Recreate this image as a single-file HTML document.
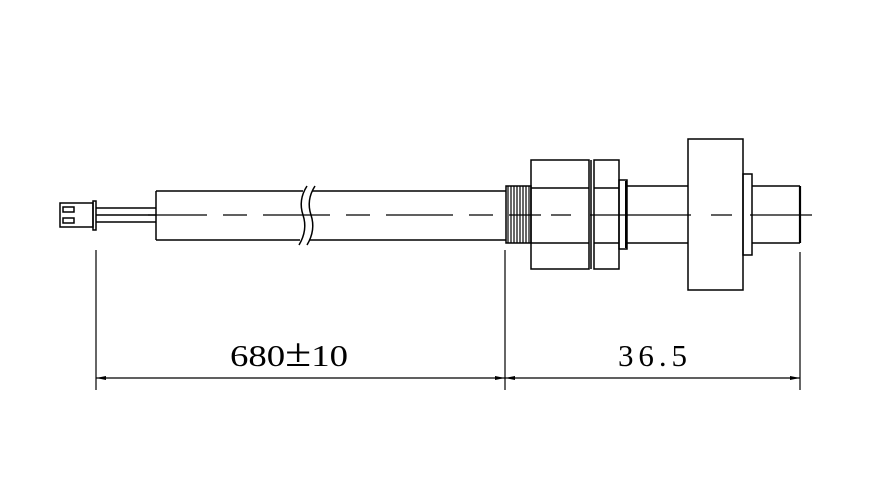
<!DOCTYPE html>
<html><head><style>body{margin:0;background:#fff}svg{display:block}</style></head><body>
<svg width="883" height="485" viewBox="0 0 883 485" xmlns="http://www.w3.org/2000/svg">
<rect width="883" height="485" fill="#fff"/>
<g fill="none" stroke="#000" stroke-width="1.5">
<rect x="60" y="203" width="33" height="24"/>
<rect x="63" y="207" width="11" height="5"/>
<rect x="63" y="218" width="11" height="5"/>
<rect x="93" y="201" width="3" height="29"/>
<line x1="96" y1="208" x2="156" y2="208"/>
<line x1="96" y1="215" x2="156" y2="215"/>
<line x1="96" y1="222" x2="156" y2="222"/>
<line x1="156" y1="191" x2="156" y2="240"/>
<line x1="156" y1="191" x2="303" y2="191"/>
<line x1="156" y1="240" x2="300" y2="240"/>
<line x1="312" y1="191" x2="506" y2="191"/>
<line x1="309" y1="240" x2="506" y2="240"/>
<path d="M307 186 Q298 200 303 215 Q308 230 299 245"/>
<path d="M315 186 Q306 200 311 215 Q316 230 307 245"/>
<rect x="506" y="186" width="25" height="57"/>
<path d="M508 186v57M511 186v57M514 186v57M517 186v57M520 186v57M523 186v57M526 186v57M529 186v57" stroke-width="1.2"/>
<rect x="531" y="160" width="58" height="109"/>
<line x1="531" y1="188" x2="589" y2="188"/>
<line x1="531" y1="243" x2="589" y2="243"/>
<line x1="591" y1="160" x2="591" y2="269"/>
<rect x="594" y="160" width="25" height="109"/>
<line x1="594" y1="188" x2="619" y2="188"/>
<line x1="594" y1="243" x2="619" y2="243"/>
<rect x="619" y="180" width="8" height="69"/>
<line x1="626" y1="181" x2="626" y2="248" stroke-width="2"/>
<line x1="627" y1="186" x2="688" y2="186"/>
<line x1="627" y1="243" x2="688" y2="243"/>
<rect x="688" y="139" width="55" height="151"/>
<rect x="743" y="174" width="9" height="81"/>
<line x1="752" y1="186" x2="800" y2="186"/>
<line x1="752" y1="243" x2="800" y2="243"/>
<line x1="800" y1="186" x2="800" y2="243" stroke-width="2.2"/>
<path d="M148 215H207M223 215H247M263 215H330M346 215H370M386 215H453M469 215H493M509 215H541M551 215H571M590 215H691M711 215H732M750 215H812" stroke-width="1.2"/>
<line x1="96" y1="250" x2="96" y2="390" stroke-width="1.2"/>
<line x1="505" y1="250" x2="505" y2="390" stroke-width="1.2"/>
<line x1="800" y1="252" x2="800" y2="390" stroke-width="1.2"/>
<line x1="96" y1="378" x2="505" y2="378" stroke-width="1.2"/>
<line x1="505" y1="378" x2="800" y2="378" stroke-width="1.2"/>
</g>
<g fill="#000">
<path d="M96 378l10-2v4z"/><path d="M505 378l-10-2v4z"/>
<path d="M505 378l10-2v4z"/><path d="M800 378l-10-2v4z"/>
</g>
<text x="230" y="366" font-family="Liberation Serif, serif" font-size="31" textLength="118" lengthAdjust="spacingAndGlyphs">680<tspan font-size="40">±</tspan>10</text>
<text x="618" y="366" font-family="Liberation Serif, serif" font-size="31" textLength="69" lengthAdjust="spacing">36.5</text>
</svg>
</body></html>
